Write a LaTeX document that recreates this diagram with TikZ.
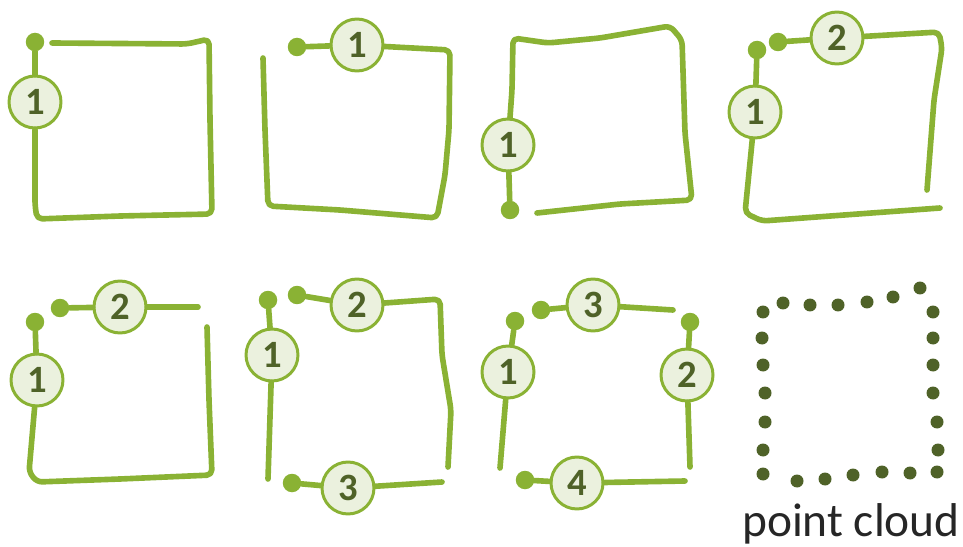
\documentclass[tikz,border=0pt]{standalone}
\usepackage{fontspec}
\setmainfont{Carlito}
\usepackage{tikz}
\usepackage{xcolor}
\usetikzlibrary{positioning, calc}
\definecolor{cLine}{RGB}{138,178,52}
\definecolor{cFill}{RGB}{235,241,222}
\definecolor{cDark}{RGB}{79,98,40}
\tikzset{
	stroke/.style  ={draw=cLine, line width=3.2pt, line cap=round, line join=round, rounded corners=3pt},
	num/.style     ={circle, draw=cLine, line width=1.7pt, fill=cFill, text=cDark, minimum size=1.04cm, inner sep=0pt, font=\bfseries\fontsize{22}{22}\selectfont},
	seed/.style    ={circle, fill=cLine, minimum size=0.37cm, inner sep=0pt},
	cloudpt/.style ={circle, fill=cDark, minimum size=0.26cm, inner sep=0pt},
}
\begin{document}
\begin{tikzpicture}[x=0.02cm, y=-0.02cm]
	\useasboundingbox (0,0) rectangle (963,547);
	% panel 1: one stroke
	\node[seed] (a-s) at (35,42) {};
	\node[num]  (a-1) at (35,102) {1};
	\coordinate (a-bl) at (37,219);
	\coordinate (a-br) at (212,214);
	\coordinate (a-tr) at (209,39);
	\coordinate (a-e)  at (52,43);
	\draw[stroke] (a-s) -- (a-1);
	\draw[stroke] (a-1) -- (35,205) -- (a-bl) -- (120,216) -- (a-br) -- (210,120) -- (a-tr) -- (187,44) -- (a-e);
	% panel 2
	\node[seed] (b-s) at (297,47) {};
	\node[num]  (b-1) at (357,45) {1};
	\coordinate (b-tr) at (450,50);
	\coordinate (b-br) at (437,218);
	\coordinate (b-bl) at (268,206);
	\coordinate (b-e)  at (263,58);
	\draw[stroke] (b-s) -- (b-1);
	\draw[stroke] (b-1) -- (b-tr) -- (449,130) -- (445,175) -- (b-br) -- (340,210) -- (b-bl) -- (265,130) -- (b-e);
	% panel 3
	\node[seed] (c-s) at (510,210) {};
	\node[num]  (c-1) at (508,145) {1};
	\coordinate (c-tl) at (513,38);
	\coordinate (c-tr) at (670,26);
	\coordinate (c-br) at (692,200);
	\coordinate (c-e)  at (537,213);
	\draw[stroke] (c-s) -- (c-1);
	\draw[stroke] (c-1) -- (512,90) -- (c-tl) -- (548,43) -- (600,38) -- (c-tr) -- (682,40) -- (685,133) -- (c-br) -- (620,204) -- (c-e);
	% panel 4
	\node[seed] (d-s) at (757,50) {};
	\node[num]  (d-1) at (755,112) {1};
	\node[seed] (d-t) at (778,42) {};
	\node[num]  (d-2) at (837,38) {2};
	\coordinate (d-bl) at (745,213);
	\coordinate (d-e)  at (940,208);
	\coordinate (d-tr) at (939,32);
	\coordinate (d-f)  at (927,190);
	\draw[stroke] (d-s) -- (d-1);
	\draw[stroke] (d-1) -- (d-bl) -- (762,221) -- (d-e);
	\draw[stroke] (d-t) -- (d-2);
	\draw[stroke] (d-2) -- (d-tr) -- (942,48) -- (934,100) -- (d-f);
	% panel 5
	\node[seed] (e-s) at (35,322) {};
	\node[num]  (e-1) at (37,380) {1};
	\node[seed] (e-t) at (60,308) {};
	\node[num]  (e-2) at (120,307) {2};
	\coordinate (e-bl) at (29,472);
	\coordinate (e-br) at (212,475);
	\coordinate (e-e)  at (207,327);
	\coordinate (e-f)  at (198,307);
	\draw[stroke] (e-s) -- (e-1);
	\draw[stroke] (e-1) -- (e-bl) -- (37,482) -- (120,479) -- (e-br) -- (209,400) -- (e-e);
	\draw[stroke] (e-t) -- (e-2);
	\draw[stroke] (e-2) -- (e-f);
	% panel 6
	\node[seed] (f-s) at (268,300) {};
	\node[num]  (f-1) at (272,355) {1};
	\node[seed] (f-t) at (297,295) {};
	\node[num]  (f-2) at (357,305) {2};
	\node[seed] (f-u) at (292,483) {};
	\node[num]  (f-3) at (348,488) {3};
	\coordinate (f-e)  at (268,479);
	\coordinate (f-tr) at (440,299);
	\coordinate (f-f)  at (448,467);
	\coordinate (f-g)  at (442,482);
	\draw[stroke] (f-s) -- (f-1);
	\draw[stroke] (f-1) -- (f-e);
	\draw[stroke] (f-t) -- (f-2);
	\draw[stroke] (f-2) -- (f-tr) -- (442,355) -- (451,410) -- (f-f);
	\draw[stroke] (f-u) -- (f-3);
	\draw[stroke] (f-3) -- (f-g);
	% panel 7
	\node[seed] (g-s) at (515,321) {};
	\node[num]  (g-1) at (508,372) {1};
	\node[seed] (g-t) at (541,310) {};
	\node[num]  (g-3) at (593,305) {3};
	\node[seed] (g-u) at (690,322) {};
	\node[num]  (g-2) at (687,375) {2};
	\node[seed] (g-v) at (525,480) {};
	\node[num]  (g-4) at (577,483) {4};
	\coordinate (g-e) at (500,468);
	\coordinate (g-f) at (673,310);
	\coordinate (g-g) at (690,467);
	\coordinate (g-h) at (685,481);
	\draw[stroke] (g-s) -- (g-1);
	\draw[stroke] (g-1) -- (g-e);
	\draw[stroke] (g-t) -- (g-3);
	\draw[stroke] (g-3) -- (g-f);
	\draw[stroke] (g-u) -- (g-2);
	\draw[stroke] (g-2) -- (g-g);
	\draw[stroke] (g-v) -- (g-4);
	\draw[stroke] (g-4) -- (g-h);
	% panel 8: point cloud
	\foreach \x/\y [count=\k] in {
		763/312, 783/303, 810/305, 838/305, 867/302, 893/297, 920/288,
		933/312, 933/338, 933/365, 933/393, 937/422, 938/450, 937/472,
		910/473, 882/472, 853/475, 825/479, 797/481, 763/474,
		763/450, 765/422, 765/393, 763/365, 762/338} {
		\node[cloudpt] (h-\k) at (\x,\y) {};
	}
	\node[anchor=base, font=\fontsize{27}{27}\selectfont, text=black!85] (h-lab) at (851,536) {point cloud};
\end{tikzpicture}
\end{document}
